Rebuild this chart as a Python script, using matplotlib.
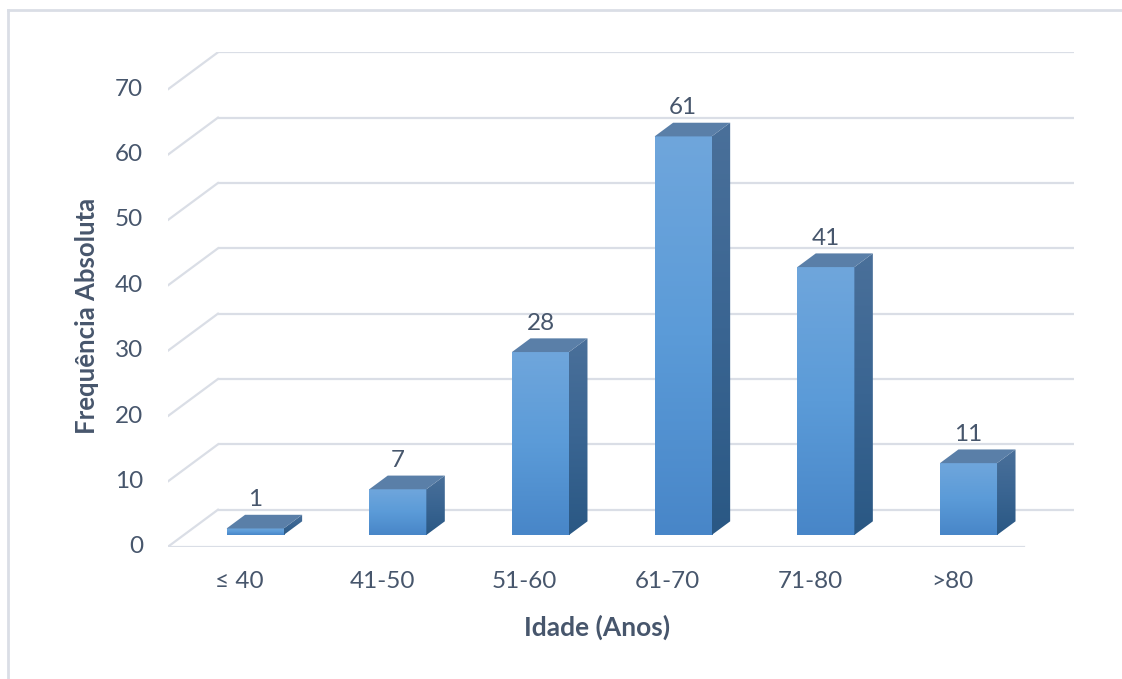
import matplotlib
matplotlib.use("Agg")
import matplotlib.pyplot as plt
import numpy as np
from matplotlib.patches import Polygon
from matplotlib.colors import LinearSegmentedColormap
from matplotlib.lines import Line2D

# ---- data ----
categories = ["\u2264 40", "41-50", "51-60", "61-70", "71-80", ">80"]
values = [1, 7, 28, 61, 41, 11]
yticks = [0, 10, 20, 30, 40, 50, 60, 70]
xlabel = "Idade (Anos)"
ylabel = "Frequência Absoluta"

# ---- style ----
TXT = "#47566C"
GRID = "#DADEE6"
FONT = "Lato"
DX, DY = 0.35, 5.66        # depth projection (x in slots, y in value units)
F0, FD = 0.316, 0.37        # bar front depth fraction, bar depth fraction
BW = 0.40                   # bar width (slots)

W, H = 1122, 679
fig = plt.figure(figsize=(W / 100, H / 100), dpi=100)
fig.patch.set_facecolor("white")

ax = fig.add_axes([168 / W, (H - 546.7) / H, (1074 - 168) / W, (546.7 - 52.3) / H])
n = len(categories)
ax.set_xlim(-0.5, n - 0.5 + DX)
ax.set_ylim(0, yticks[-1] + DY)
ax.axis("off")

# frame
fig.add_artist(Line2D([8 / W, 8 / W], [0, 1 - 10 / H], transform=fig.transFigure, color=GRID, lw=2))
fig.add_artist(Line2D([8 / W, 1], [1 - 10 / H, 1 - 10 / H], transform=fig.transFigure, color=GRID, lw=2))

# gridlines: back wall + left slant
for v in yticks:
    ax.plot([-0.5 + DX, n - 0.5 + DX], [v + DY, v + DY], color=GRID, lw=1.6, zorder=1, solid_capstyle="butt")
    ax.plot([-0.5, -0.5 + DX], [v, v + DY], color=GRID, lw=1.6, zorder=1)
    ax.annotate(str(v), (-0.5, v), xytext=(-25, 0), textcoords="offset pixels",
                ha="right", va="center", fontsize=17.5, color=TXT, family=FONT)
# front floor line
ax.plot([-0.5, n - 0.5], [0, 0], color=GRID, lw=1.6, zorder=1)

front_cmap = LinearSegmentedColormap.from_list("f", ["#4886C8", "#5B9BD8", "#6FA6DC"])
side_cmap = LinearSegmentedColormap.from_list("s", ["#2A5884", "#3A6592", "#4A709A"])
grad = np.linspace(0, 1, 256).reshape(-1, 1)

for i, (cat, v) in enumerate(zip(categories, values)):
    x0 = i - BW / 2 + F0 * DX
    y0 = F0 * DY
    top = y0 + v
    ddx, ddy = FD * DX, FD * DY
    # front face
    ax.imshow(grad, extent=(x0, x0 + BW, y0, top), origin="lower", cmap=front_cmap,
              aspect="auto", zorder=3, interpolation="bilinear")
    # side face
    side = Polygon([(x0 + BW, y0), (x0 + BW + ddx, y0 + ddy), (x0 + BW + ddx, top + ddy), (x0 + BW, top)],
                   closed=True, facecolor="none", edgecolor="none", zorder=3)
    ax.add_patch(side)
    im = ax.imshow(grad, extent=(x0 + BW, x0 + BW + ddx, y0, top + ddy), origin="lower", cmap=side_cmap,
                   aspect="auto", zorder=3, interpolation="bilinear")
    im.set_clip_path(side)
    # top face
    ax.add_patch(Polygon([(x0, top), (x0 + BW, top), (x0 + BW + ddx, top + ddy), (x0 + ddx, top + ddy)],
                         closed=True, facecolor="#5A7FA8", edgecolor="none", zorder=3))
    # value label
    ax.annotate(str(v), (x0 + BW / 2, top + ddy), xytext=(0, 15), textcoords="offset pixels",
                ha="center", va="center", fontsize=17.5, color=TXT, family=FONT, zorder=5)
    # category label
    ax.annotate(cat, (i, 0), xytext=(0, -35), textcoords="offset pixels",
                ha="center", va="center", fontsize=17.5, color=TXT, family=[FONT, "DejaVu Sans"])

fig.text(597 / W, 1 - 627 / H, xlabel, ha="center", va="center", fontsize=19,
         fontweight="bold", color=TXT, family=FONT)
fig.text(87 / W, 1 - 316 / H, ylabel, ha="center", va="center", rotation=90, fontsize=18.5,
         fontweight="bold", color=TXT, family=FONT)

fig.savefig("out.png", dpi=100, facecolor="white")
